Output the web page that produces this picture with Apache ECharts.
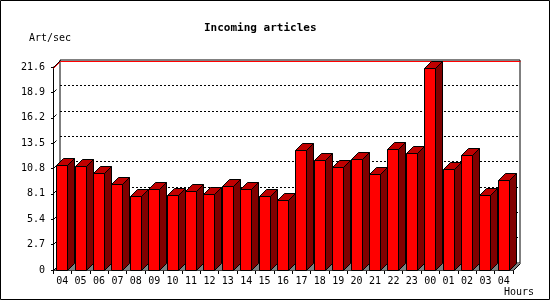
<!DOCTYPE html>
<html>
<head>
<meta charset="utf-8">
<script src="https://cdn.jsdelivr.net/npm/echarts@6/dist/echarts.min.js"></script>
<style>
html,body{margin:0;padding:0;background:#fff;}
#chart{width:550px;height:300px;}
</style>
</head>
<body>
<div id="chart"></div>
<script>
const hours = ['04','05','06','07','08','09','10','11','12','13','14','15','16','17','18','19','20','21','22','23','00','01','02','03','04'];
const rates = [11.16, 11.05, 10.30, 9.06, 7.78, 8.60, 7.89, 8.38, 8.06, 8.92, 8.60, 7.78, 7.42, 12.75, 11.69, 10.94, 11.79, 10.20, 12.86, 12.43, 21.39, 10.73, 12.22, 7.96, 9.56];
const yTicks = [0, 2.7, 5.4, 8.1, 10.8, 13.5, 16.2, 18.9, 21.6];
const titleText = 'Incoming articles';
const yName = 'Art/sec';
const xName = 'Hours';

const FONT = '"DejaVu Sans Mono", monospace';
const DEPTH = 7;
const BAR_W = 11;

const chart = echarts.init(document.getElementById('chart'), null, {renderer: 'canvas'});

function crisp(v) { return Math.floor(v) + 0.5; }

const option = {
  animation: false,
  backgroundColor: '#fff',
  title: [
    {text: titleText, left: 204, top: 23, padding: 0, textStyle: {fontFamily: FONT, fontSize: 11, fontWeight: 'bold', color: '#000'}},
    {text: yName, left: 29, top: 33, padding: 0, textStyle: {fontFamily: FONT, fontSize: 10, fontWeight: 'normal', color: '#000'}},
    {text: xName, left: 504, top: 287, padding: 0, textStyle: {fontFamily: FONT, fontSize: 10, fontWeight: 'normal', color: '#000'}}
  ],
  graphic: [{
    type: 'rect', shape: {x: 0.5, y: 0.5, width: 549, height: 299},
    style: {fill: 'none', stroke: '#000', lineWidth: 1}, z: 100
  }],
  grid: [
    {left: 53, top: 67, width: 460, height: 203, containLabel: false},
    {left: 60, top: 60, width: 460, height: 203, show: true, borderColor: '#000', borderWidth: 1, backgroundColor: 'transparent', z: 0}
  ],
  xAxis: [
    {
      type: 'category', gridIndex: 0, data: hours, boundaryGap: true,
      axisLine: {show: true, lineStyle: {color: '#000', width: 1}},
      axisTick: {show: true, length: 4, lineStyle: {color: '#000'}},
      axisLabel: {fontFamily: FONT, fontSize: 10, color: '#000', margin: 6, interval: 0},
      splitLine: {show: false}
    },
    {
      type: 'category', gridIndex: 1, data: hours, show: false
    }
  ],
  yAxis: [
    {
      type: 'value', gridIndex: 0, min: 0, max: 21.6, interval: 2.7,
      axisLine: {show: true, lineStyle: {color: '#000', width: 1}},
      axisTick: {show: true, length: 2, lineStyle: {color: '#000'}},
      axisLabel: {fontFamily: FONT, fontSize: 10, color: '#000', margin: 8,
        formatter: v => (Math.abs(v) < 1e-9 ? '0' : v.toFixed(1))},
      splitLine: {show: false}
    },
    {
      type: 'value', gridIndex: 1, min: 0, max: 21.6, interval: 2.7,
      axisLine: {show: false}, axisTick: {show: false}, axisLabel: {show: false},
      splitLine: {show: true, lineStyle: {
        color: ['transparent', '#000', '#000', '#000', '#000', '#000', '#000', '#000', 'transparent'],
        type: [2, 2], width: 1}}
    }
  ],
  series: [
    {
      name: 'floor', type: 'custom', xAxisIndex: 0, yAxisIndex: 0, clip: false, z: 1,
      data: [[0, 0]],
      renderItem: function (params, api) {
        const cs = params.coordSys;
        const x0 = cs.x + 0.5, yb = cs.y + cs.height + 0.5, x1 = cs.x + cs.width + 0.5;
        return {
          type: 'group',
          children: [
            {type: 'polygon', shape: {points: [[x0, yb], [x0 + DEPTH, yb - DEPTH], [x1 + DEPTH, yb - DEPTH], [x1, yb]]},
              style: {fill: '#808080', stroke: null}},
            {type: 'line', shape: {x1: x1, y1: yb, x2: x1 + DEPTH, y2: yb - DEPTH},
              style: {stroke: '#000', lineWidth: 1}}
          ]
        };
      }
    },
    {
      name: 'ticks', type: 'custom', xAxisIndex: 0, yAxisIndex: 0, clip: false, z: 2,
      data: yTicks.map(t => [0, t]),
      renderItem: function (params, api) {
        const cs = params.coordSys;
        const t = api.value(1);
        const y = crisp(api.coord([0, t])[1]);
        const x = cs.x + 0.5;
        const top = Math.abs(t - 21.6) < 1e-9;
        const len = top ? DEPTH : 3;
        return {type: 'line', shape: {x1: x, y1: y, x2: x + len, y2: y - len},
          style: {stroke: '#000', lineWidth: 1}};
      }
    },
    {
      name: 'max', type: 'custom', xAxisIndex: 0, yAxisIndex: 0, clip: false, z: 3,
      data: [[0, Math.max.apply(null, rates)]],
      renderItem: function (params, api) {
        const cs = params.coordSys;
        const y = crisp(api.coord([0, api.value(1)])[1]);
        const x = cs.x + 0.5;
        return {type: 'polyline', shape: {points: [[x, y], [x + DEPTH, y - DEPTH], [x + cs.width + DEPTH, y - DEPTH]]},
          style: {stroke: '#ff0000', lineWidth: 1, fill: null}};
      }
    },
    {
      name: 'Art/sec', type: 'custom', xAxisIndex: 0, yAxisIndex: 0, clip: false, z: 4,
      data: rates.map((v, i) => [i, v]),
      renderItem: function (params, api) {
        const i = api.value(0), v = api.value(1);
        const base = api.coord([i, 0]);
        const topP = api.coord([i, v]);
        const l = crisp(base[0] - BAR_W / 2);
        const r = l + BAR_W;
        const y0 = crisp(base[1]);
        const y1 = crisp(topP[1]);
        const d = DEPTH;
        const st = {stroke: '#000', lineWidth: 1};
        return {
          type: 'group',
          children: [
            {type: 'polygon', shape: {points: [[r, y0], [r + d, y0 - d], [r + d, y1 - d], [r, y1]]},
              style: Object.assign({fill: '#800000'}, st)},
            {type: 'polygon', shape: {points: [[l, y1], [l + d, y1 - d], [r + d, y1 - d], [r, y1]]},
              style: Object.assign({fill: '#c00000'}, st)},
            {type: 'rect', shape: {x: l, y: y1, width: BAR_W, height: y0 - y1},
              style: Object.assign({fill: '#ff0000'}, st)}
          ]
        };
      }
    }
  ]
};
chart.setOption(option);
</script>
</body>
</html>
